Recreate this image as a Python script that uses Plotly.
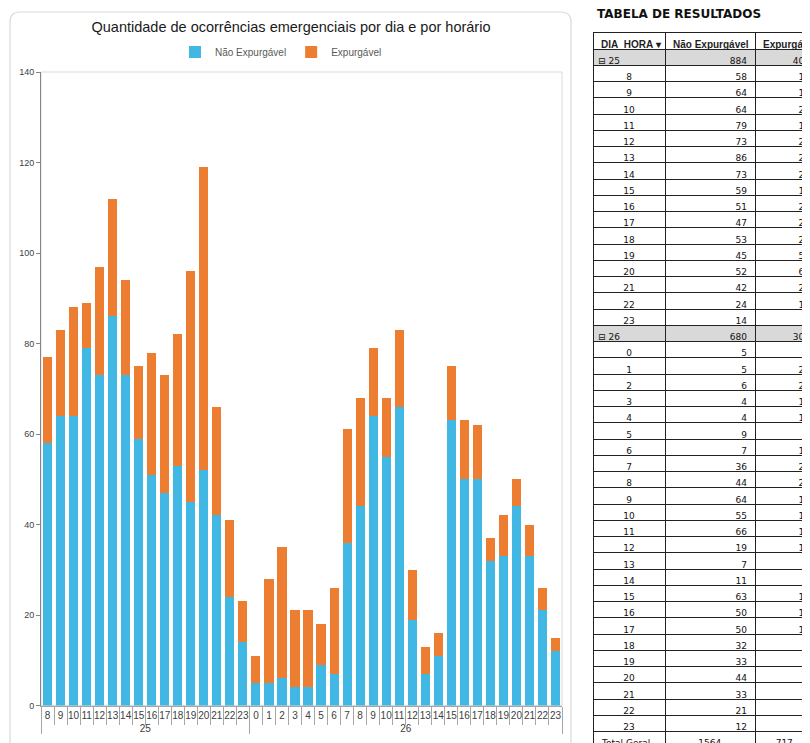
import plotly.graph_objects as go

W, H = 810, 743
OFF = 8  # page body margin offset

# ---- data ----
days = ["25"] * 16 + ["26"] * 24
hours = [str(h) for h in range(8, 24)] + [str(h) for h in range(0, 24)]
nao_expurgavel = [58, 64, 64, 79, 73, 86, 73, 59, 51, 47, 53, 45, 52, 42, 24, 14,
                  5, 5, 6, 4, 4, 9, 7, 36, 44, 64, 55, 66, 19, 7, 11, 63, 50, 50, 32, 33, 44, 33, 21, 12]
expurgavel = [19, 19, 24, 10, 24, 26, 21, 16, 27, 26, 29, 51, 67, 24, 17, 9,
              6, 23, 29, 17, 17, 9, 19, 25, 24, 15, 13, 17, 11, 6, 5, 12, 13, 12, 5, 9, 6, 7, 5, 3]
series_names = ["Não Expurgável", "Expurgável"]
title_text = "Quantidade de ocorrências emergenciais por dia e por horário"
table_title = "TABELA DE RESULTADOS"
table_header = ["DIA_HORA ▾", "Não Expurgável", "Expurgável"]

BLUE = "#41B7E4"
ORANGE = "#ED7D31"
NB = "\u00a0"
ZW = "\u200b"

def px_x(v):
    return (v - OFF) / W

def px_y(v):
    return 1 - (v - OFF) / H

# inner category keys: make each day's hour keys distinct (invisible marker) so
# plotly keeps the natural hour order inside every day group
day_list = list(dict.fromkeys(days))
inner = [h + ZW * day_list.index(d) for d, h in zip(days, hours)]

fig = go.Figure()
fig.add_trace(go.Bar(x=[days, inner], y=nao_expurgavel, name=series_names[0],
                     marker=dict(color=BLUE, line=dict(width=0))))
fig.add_trace(go.Bar(x=[days, inner], y=expurgavel, name=series_names[1],
                     marker=dict(color=ORANGE, line=dict(width=0))))

# ---- table built from the same arrays ----
col_a, col_b, col_c, fills = [], [], [], []
for d in day_list:
    idx = [i for i, dd in enumerate(days) if dd == d]
    col_a.append("⊟" + NB + d + NB * 14)
    col_b.append(str(sum(nao_expurgavel[i] for i in idx)))
    col_c.append(str(sum(expurgavel[i] for i in idx)))
    fills.append("#D9D9D9")
    for i in idx:
        col_a.append(hours[i])
        col_b.append(str(nao_expurgavel[i]))
        col_c.append(str(expurgavel[i]))
        fills.append("white")
col_a.append("Total" + NB + "Geral" + NB * 2)
col_b.append(str(sum(nao_expurgavel)) + NB * 9)
col_c.append(str(sum(expurgavel)) + NB * 6)
fills.append("white")

fig.add_trace(go.Table(
    domain=dict(x=[px_x(593), 1.0], y=[0.0, px_y(32)]),
    columnwidth=[72, 90, 63],
    header=dict(values=[h.replace(" ", NB) for h in table_header],
                fill_color="white", line=dict(color="#222222", width=1),
                align="left", height=17,
                font=dict(family="Liberation Sans", size=10, color="#1F1F1F", weight="bold")),
    cells=dict(values=[col_a, col_b, col_c],
               fill_color=[fills, fills, fills],
               line=dict(color="#222222", width=1),
               align=["center", "right", "right"], height=16.25,
               font=dict(family="DejaVu Sans", size=9, color="#111111")),
))

# chart panel (rounded border)
x0, x1, y0, y1 = px_x(10), px_x(571), px_y(12), px_y(770)
rx, ry = 10 / W, 10 / H
path = (f"M {x0},{y1} L {x0},{y0 - ry} Q {x0},{y0} {x0 + rx},{y0} "
        f"L {x1 - rx},{y0} Q {x1},{y0} {x1},{y0 - ry} L {x1},{y1}")
fig.add_shape(type="path", path=path, xref="paper", yref="paper",
              line=dict(color="#D9D9D9", width=1.2), layer="below")
# plot area border
fig.add_shape(type="rect", xref="x domain", yref="y domain", x0=0, x1=1, y0=0, y1=1,
              line=dict(color="#D9D9D9", width=1), layer="below")

fig.add_annotation(text="<b>" + table_title + "</b>", xref="paper", yref="paper",
                   x=px_x(595), y=px_y(14), xanchor="left", yanchor="middle",
                   showarrow=False, font=dict(family="DejaVu Sans", size=12, color="#111111"))

fig.update_layout(
    width=W, height=H,
    margin=dict(l=0, r=0, t=0, b=0),
    paper_bgcolor="white", plot_bgcolor="white",
    barmode="stack", bargap=0.3,
    title=dict(text=title_text, x=px_x(291), y=px_y(27), xref="paper", yref="paper",
               xanchor="center", yanchor="middle",
               font=dict(family="Liberation Sans", size=14.5, color="#1A1A1A")),
    legend=dict(orientation="h", x=px_x(281), y=px_y(52), xanchor="center", yanchor="middle",
                traceorder="normal", itemwidth=30,
                font=dict(family="Liberation Sans", size=10, color="#595959"),
                tracegroupgap=0, bgcolor="rgba(0,0,0,0)"),
    xaxis=dict(domain=[px_x(41), px_x(562)], type="multicategory", tickangle=0,
               showline=True, linecolor="#A6A6A6", ticks="outside", tickson="boundaries",
               ticklen=18, tickcolor="#A6A6A6", showdividers=True, dividercolor="#A6A6A6",
               dividerwidth=1, showgrid=False, automargin=False,
               tickfont=dict(family="Liberation Sans", size=10, color="#404040")),
    yaxis=dict(domain=[px_y(705.5), px_y(72)], range=[0, 140], dtick=20,
               showline=True, linecolor="#868686", ticks="outside", ticklen=4,
               tickcolor="#868686", showgrid=False, zeroline=False, automargin=False,
               tickfont=dict(family="Liberation Sans", size=9, color="#404040")),
)

fig.write_html("out.html")
